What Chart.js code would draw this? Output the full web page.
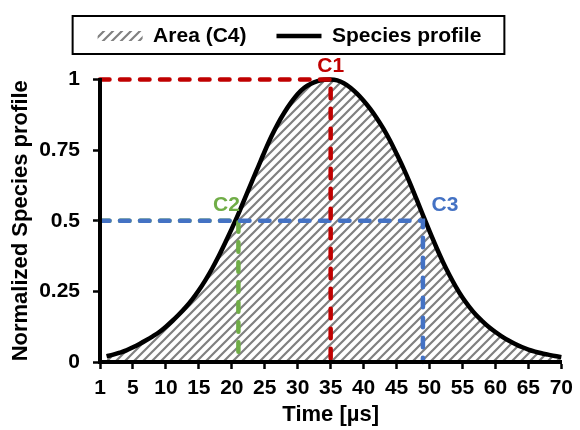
<!DOCTYPE html>
<html lang="en">
<head>
    <meta charset="UTF-8">
    <title>Normalized Species profile</title>
    <script src="https://cdn.jsdelivr.net/npm/chart.js@4.4.1/dist/chart.umd.min.js"></script>
    <style>
        body {
            margin: 0;
            background: #fff;
        }
        #wrap {
            width: 580px;
            height: 430px;
        }
    </style>
</head>
<body>
    <div id="wrap">
        <canvas id="chart" width="580" height="430"></canvas>
    </div>

    <script>
        // Data
        const timeValues = [1, 2, 3, 4, 5, 6, 7, 8, 9, 10,
            11, 12, 13, 14, 15, 16, 17, 18, 19, 20,
            21, 22, 23, 24, 25, 26, 27, 28, 29, 30,
            31, 32, 33, 34, 35, 36, 37, 38, 39, 40,
            41, 42, 43, 44, 45, 46, 47, 48, 49, 50,
            51, 52, 53, 54, 55, 56, 57, 58, 59, 60,
            61, 62, 63, 64, 65, 66, 67, 68, 69, 70];
        const profileValues = [0.020, 0.026, 0.033, 0.041, 0.052, 0.064, 0.077, 0.091, 0.106, 0.125,
            0.146, 0.169, 0.194, 0.222, 0.254, 0.290, 0.330, 0.374, 0.422, 0.472,
            0.524, 0.580, 0.636, 0.691, 0.746, 0.798, 0.844, 0.884, 0.919, 0.949,
            0.971, 0.985, 0.994, 0.999, 1.000, 0.997, 0.987, 0.971, 0.950, 0.925,
            0.896, 0.863, 0.826, 0.784, 0.737, 0.688, 0.635, 0.578, 0.520, 0.463,
            0.408, 0.356, 0.309, 0.266, 0.228, 0.196, 0.168, 0.145, 0.124, 0.106,
            0.090, 0.076, 0.064, 0.053, 0.044, 0.037, 0.031, 0.026, 0.021, 0.017];

        const xTickLabels = ['1', '5', '10', '15', '20', '25', '30', '35', '40', '45', '50', '55', '60', '65', '70'];
        const yTickLabels = ['0', '0.25', '0.5', '0.75', '1'];

        const guideNames = ['C1', 'C2', 'C3'];
        const guideTimes = [35, 21, 49];
        const guideLevels = [1, 0.5, 0.5];

        const guideColors = ['#C00000', '#70AD47', '#4472C4'];

        Chart.defaults.font.family = '"Liberation Sans", Arial, sans-serif';
        Chart.defaults.font.weight = 'bold';
        Chart.defaults.font.size = 21;
        Chart.defaults.color = '#000';

        // hatch pattern for the area
        const tile = document.createElement('canvas');
        tile.width = 9;
        tile.height = 9;
        const tctx = tile.getContext('2d');
        tctx.strokeStyle = '#808080';
        tctx.lineWidth = 2.2;
        tctx.beginPath();
        tctx.moveTo(0, 9); tctx.lineTo(9, 0);
        tctx.moveTo(-1, 1); tctx.lineTo(1, -1);
        tctx.moveTo(8, 10); tctx.lineTo(10, 8);
        tctx.stroke();

        const ctx = document.getElementById('chart').getContext('2d');
        const hatch = ctx.createPattern(tile, 'repeat');

        const profilePoints = timeValues.map((t, i) => ({x: t, y: profileValues[i]}));

        function guideData(i) {
            return [
                {x: 0, y: guideLevels[i]},
                {x: guideTimes[i], y: guideLevels[i]},
                {x: guideTimes[i], y: 0}
            ];
        }

        function guideDataset(i) {
            return {
                label: guideNames[i],
                data: guideData(i),
                borderColor: guideColors[i],
                borderWidth: 4.5,
                borderDash: [9.5, 10.5],
                borderCapStyle: 'round',
                pointRadius: 0,
                fill: false,
                clip: false
            };
        }

        // draws the C1..C3 names next to the dashed guides
        const guideLabels = {
            id: 'guideLabels',
            afterDatasetsDraw(chart) {
                const c = chart.ctx;
                const xs = chart.scales.x, ys = chart.scales.y;
                const offsets = [[0, -13], [-12, -16], [22, -16]];
                c.save();
                c.font = 'bold 21px "Liberation Sans", Arial, sans-serif';
                c.textAlign = 'center';
                c.textBaseline = 'middle';
                guideNames.forEach((name, i) => {
                    c.fillStyle = guideColors[i];
                    c.fillText(name,
                        xs.getPixelForValue(guideTimes[i]) + offsets[i][0],
                        ys.getPixelForValue(guideLevels[i]) + offsets[i][1]);
                });
                c.restore();
            }
        };

        // frame round the legend
        const legendFrame = {
            id: 'legendFrame',
            afterDraw(chart) {
                const boxes = chart.legend.legendHitBoxes;
                if (!boxes || !boxes.length) return;
                const left = Math.min(...boxes.map(b => b.left)) - 25;
                const right = Math.max(...boxes.map(b => b.left + b.width)) + 23;
                const top = boxes[0].top - 9.5;
                const bottom = boxes[0].top + boxes[0].height + 7.5;
                const c = chart.ctx;
                c.save();
                c.strokeStyle = '#000';
                c.lineWidth = 2;
                c.strokeRect(left, top, right - left, bottom - top);
                c.restore();
            }
        };

        new Chart(ctx, {
            type: 'line',
            data: {
                datasets: [
                    guideDataset(0),
                    guideDataset(2),
                    guideDataset(1),
                    {
                        label: 'Species profile',
                        data: profilePoints,
                        borderColor: '#000',
                        borderWidth: 4.5,
                        pointRadius: 0,
                        cubicInterpolationMode: 'monotone',
                        fill: false,
                        clip: false
                    },
                    {
                        label: 'Area (C4)',
                        data: profilePoints,
                        borderWidth: 0,
                        borderColor: 'rgba(0,0,0,0)',
                        backgroundColor: hatch,
                        pointRadius: 0,
                        cubicInterpolationMode: 'monotone',
                        fill: 'origin',
                        clip: {left: 0, top: 0, right: 0, bottom: -2}
                    }
                ]
            },
            options: {
                responsive: false,
                animation: false,
                layout: {
                    padding: {top: -4.5, right: 13, left: 12, bottom: 0}
                },
                plugins: {
                    tooltip: {enabled: false},
                    title: {
                        display: true,
                        text: '',
                        weight: 500,
                        padding: {top: 0, bottom: 22},
                        font: {size: 1, lineHeight: 1}
                    },
                    legend: {
                        position: 'top',
                        labels: {
                            padding: 30,
                            usePointStyle: true,
                            pointStyleWidth: 45,
                            boxHeight: 10,
                            color: '#000',
                            font: {size: 21, weight: 'bold'},
                            generateLabels: () => [
                                {
                                    text: 'Area (C4)',
                                    fillStyle: hatch,
                                    strokeStyle: 'rgba(0,0,0,0)',
                                    lineWidth: 0,
                                    pointStyle: 'rect',
                                    hidden: false,
                                    datasetIndex: 4
                                },
                                {
                                    text: 'Species profile',
                                    fillStyle: '#000',
                                    strokeStyle: '#000',
                                    lineWidth: 4.5,
                                    pointStyle: 'line',
                                    hidden: false,
                                    datasetIndex: 3
                                }
                            ]
                        }
                    }
                },
                scales: {
                    x: {
                        type: 'linear',
                        min: 0,
                        max: 70,
                        afterFit: (scale) => { scale.height = 68; },
                        border: {display: true, color: '#000', width: 4, z: 1},
                        grid: {
                            z: 0,
                            drawOnChartArea: false,
                            drawTicks: true,
                            tickLength: 7,
                            tickWidth: 2.5,
                            tickColor: '#000'
                        },
                        ticks: {
                            stepSize: 5,
                            autoSkip: false,
                            maxRotation: 0,
                            padding: 7,
                            color: '#000',
                            callback: (value, index) => xTickLabels[index]
                        },
                        title: {
                            display: true,
                            text: 'Time [µs]',
                            color: '#000',
                            padding: {top: 0, bottom: 2},
                            font: {size: 22, weight: 'bold'}
                        }
                    },
                    y: {
                        min: 0,
                        max: 1,
                        afterFit: (scale) => { scale.width = 88; },
                        border: {display: true, color: '#000', width: 4, z: 1},
                        grid: {
                            z: 0,
                            drawOnChartArea: false,
                            drawTicks: true,
                            tickLength: 7,
                            tickWidth: 2.5,
                            tickColor: '#000'
                        },
                        ticks: {
                            stepSize: 0.25,
                            padding: 13,
                            color: '#000',
                            callback: (value, index) => yTickLabels[index]
                        },
                        title: {
                            display: true,
                            text: 'Normalized Species profile',
                            color: '#000',
                            padding: {top: -4, bottom: 0},
                            font: {size: 22, weight: 'bold'}
                        }
                    }
                }
            },
            plugins: [guideLabels, legendFrame]
        });
    </script>
</body>
</html>
